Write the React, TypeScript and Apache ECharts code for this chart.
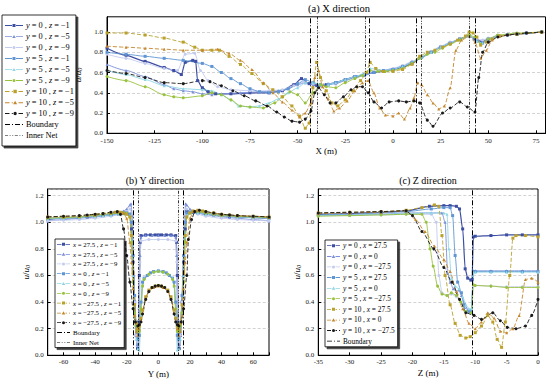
import React, { useEffect, useRef } from 'react';
import * as echarts from 'echarts';

const FONT = 'Liberation Serif';

// ---------- (a) X direction ----------
const xTicksA = [-150, -125, -100, -75, -50, -25, 0, 25, 50, 75];
const aY0Z1 = [[-150,0.84],[-140,0.77],[-130,0.71],[-120,0.65],[-115,0.62],[-111,0.58],[-109,0.70],[-105,0.72],[-103.5,0.71],[-102.5,0.52],[-100,0.45],[-97,0.41],[-93,0.39],[-85,0.39],[-75,0.40],[-65,0.40],[-58,0.42],[-52,0.48],[-48,0.54],[-44,0.49],[-40,0.47],[-35,0.48],[-30,0.50],[-25,0.53],[-20,0.56],[-15,0.58],[-10,0.60],[-5,0.61],[0,0.63],[5,0.65],[10,0.69],[15,0.75],[20,0.80],[25,0.85],[30,0.89],[35,0.93],[40,0.96],[43,0.93],[47,0.90],[50,0.93],[55,0.96],[60,0.97],[65,0.98],[70,0.99],[78,1.0]];
const aY0Z5 = [[-150,0.68],[-140,0.62],[-130,0.56],[-120,0.48],[-115,0.44],[-110,0.42],[-105,0.41],[-100,0.39],[-95,0.38],[-90,0.39],[-80,0.40],[-70,0.41],[-60,0.42],[-55,0.44],[-50,0.48],[-46,0.50],[-42,0.48],[-38,0.47],[-34,0.48],[-30,0.49],[-25,0.52],[-20,0.55],[-15,0.57],[-10,0.60],[-5,0.62],[0,0.64],[5,0.66],[10,0.70],[15,0.75],[20,0.80],[25,0.85],[30,0.89],[35,0.93],[40,0.96],[44,0.92],[47,0.91],[50,0.93],[55,0.96],[65,0.98],[78,1.0]];
const aY0Z9 = [[-150,0.78],[-140,0.74],[-130,0.69],[-120,0.64],[-113,0.62],[-109,0.78],[-104,0.79],[-101,0.62],[-97,0.52],[-92,0.46],[-85,0.43],[-75,0.42],[-65,0.42],[-58,0.43],[-52,0.47],[-47,0.51],[-42,0.49],[-38,0.48],[-34,0.49],[-30,0.50],[-25,0.53],[-20,0.56],[-15,0.58],[-10,0.61],[-5,0.62],[0,0.64],[5,0.67],[10,0.71],[15,0.76],[20,0.81],[25,0.86],[30,0.90],[35,0.93],[40,0.96],[44,0.93],[47,0.92],[50,0.94],[55,0.96],[65,0.98],[78,1.0]];
const aY5Z1 = [[-150,0.80],[-140,0.78],[-130,0.76],[-120,0.74],[-110,0.72],[-100,0.69],[-95,0.66],[-90,0.60],[-85,0.54],[-80,0.49],[-75,0.44],[-70,0.41],[-65,0.40],[-60,0.41],[-55,0.44],[-50,0.49],[-46,0.53],[-42,0.50],[-38,0.48],[-34,0.48],[-30,0.50],[-25,0.53],[-20,0.56],[-15,0.58],[-10,0.60],[-5,0.62],[0,0.63],[5,0.66],[10,0.70],[15,0.75],[20,0.80],[25,0.85],[30,0.89],[35,0.93],[40,0.96],[44,0.91],[47,0.89],[50,0.93],[55,0.96],[65,0.98],[78,1.0]];
const aY5Z5 = [[-150,0.62],[-140,0.58],[-130,0.53],[-120,0.47],[-110,0.44],[-100,0.43],[-95,0.42],[-90,0.38],[-85,0.33],[-81,0.27],[-75,0.26],[-70,0.27],[-65,0.30],[-60,0.34],[-55,0.40],[-50,0.45],[-46,0.50],[-42,0.50],[-38,0.48],[-34,0.48],[-30,0.50],[-25,0.53],[-20,0.56],[-15,0.59],[-12,0.64],[-8,0.63],[-4,0.62],[0,0.63],[5,0.66],[10,0.70],[15,0.75],[20,0.80],[25,0.85],[30,0.89],[35,0.93],[40,0.96],[44,0.91],[47,0.89],[50,0.93],[55,0.96],[65,0.98],[78,1.0]];
const aY5Z9 = [[-150,0.56],[-140,0.52],[-130,0.46],[-120,0.38],[-115,0.36],[-110,0.35],[-100,0.37],[-95,0.40],[-90,0.38],[-85,0.33],[-80,0.27],[-75,0.26],[-68,0.25],[-62,0.30],[-58,0.36],[-54,0.41],[-50,0.38],[-46,0.30],[-42,0.40],[-38,0.48],[-35,0.46],[-30,0.45],[-25,0.50],[-20,0.54],[-16,0.57],[-12,0.62],[-8,0.61],[-4,0.61],[0,0.62],[5,0.64],[10,0.69],[14,0.74],[18,0.78],[22,0.80],[26,0.84],[30,0.88],[35,0.92],[40,0.97],[43,0.95],[46,0.88],[50,0.93],[55,0.97],[65,0.99],[78,1.0]];
const aY10Z1 = [[-150,0.99],[-140,0.99],[-130,0.97],[-120,0.94],[-110,0.90],[-104,0.85],[-100,0.82],[-95,0.82],[-91,0.82],[-86,0.76],[-80,0.68],[-74,0.59],[-68,0.49],[-63,0.43],[-58,0.36],[-53,0.27],[-49,0.17],[-46,0.05],[-44,0.10],[-42,0.45],[-40,0.70],[-38,0.55],[-35,0.42],[-32,0.30],[-29,0.27],[-25,0.33],[-21,0.42],[-17,0.52],[-14,0.60],[-12,0.70],[-9,0.64],[-5,0.61],[0,0.61],[5,0.63],[10,0.68],[14,0.76],[18,0.80],[22,0.82],[26,0.85],[30,0.88],[34,0.92],[38,0.96],[40,1.0],[42,0.99],[44,0.95],[46,0.87],[49,0.90],[52,0.93],[56,0.96],[65,0.98],[78,1.0]];
const aY10Z5 = [[-150,0.86],[-140,0.85],[-130,0.84],[-120,0.83],[-110,0.82],[-100,0.82],[-92,0.83],[-86,0.79],[-80,0.72],[-74,0.63],[-68,0.50],[-63,0.40],[-58,0.31],[-53,0.23],[-49,0.16],[-46,0.20],[-43,0.30],[-41,0.55],[-39,0.62],[-37,0.46],[-34,0.34],[-31,0.22],[-28,0.25],[-24,0.32],[-20,0.42],[-16,0.50],[-13,0.52],[-10,0.40],[-7,0.25],[-4,0.18],[0,0.17],[3,0.20],[6,0.14],[9,0.25],[11,0.35],[13,0.50],[15,0.48],[18,0.38],[21,0.30],[24,0.24],[27,0.27],[30,0.45],[33,0.82],[36,0.92],[40,0.96],[43,0.90],[46,0.74],[49,0.82],[52,0.92],[56,0.96],[65,0.98],[78,1.0]];
const aY10Z9 = [[-150,0.62],[-140,0.59],[-130,0.55],[-120,0.50],[-110,0.49],[-100,0.52],[-96,0.51],[-90,0.47],[-84,0.42],[-78,0.37],[-72,0.32],[-66,0.27],[-61,0.21],[-57,0.16],[-53,0.12],[-49,0.11],[-46,0.14],[-43,0.22],[-41,0.40],[-39,0.45],[-36,0.38],[-33,0.30],[-30,0.30],[-26,0.36],[-22,0.43],[-19,0.46],[-16,0.46],[-13,0.40],[-10,0.31],[-6,0.25],[-2,0.31],[3,0.32],[7,0.31],[11,0.32],[14,0.30],[18,0.13],[21,0.07],[26,0.20],[30,0.25],[35,0.31],[39,0.26],[43,0.21],[45,0.55],[47,0.80],[50,0.90],[55,0.95],[60,0.97],[65,0.98],[70,0.99],[78,1.0]];
const boundaryA = [-43.2, -12.2, 12.2, 43.2];
const innerNetA = [-39.9, -14.7, 14.7, 39.9];

// ---------- (b) Y direction ----------
const bX275Z1 = [[-70,1.02],[-60,1.03],[-50,1.035],[-45,1.04],[-40,1.045],[-35,1.05],[-30,1.055],[-25,1.06],[-22,1.065],[-20,1.07],[-18,1.06],[-17,0.95],[-16,0.70],[-15,0.40],[-14,0.15],[-13.2,0.05],[-12.5,0.25],[-12,0.60],[-11.5,0.85],[-11,0.90],[-8,0.905],[-5,0.905],[-2,0.905],[0,0.905],[2,0.905],[5,0.905],[8,0.905],[11,0.90],[11.5,0.85],[12,0.60],[12.5,0.25],[13.2,0.05],[14,0.15],[15,0.40],[16,0.70],[17,0.95],[18,1.08],[20,1.08],[22,1.075],[25,1.07],[30,1.06],[35,1.055],[40,1.05],[45,1.045],[50,1.04],[60,1.035],[70,1.03]];
const bX275Z5 = [[-70,1.01],[-60,1.02],[-50,1.03],[-45,1.035],[-40,1.04],[-35,1.05],[-30,1.06],[-25,1.07],[-22,1.085],[-20,1.10],[-18,1.13],[-17.3,1.14],[-16.5,1.05],[-15.5,0.60],[-14.5,0.25],[-13.5,0.08],[-12.5,0.05],[-12,0.30],[-11.5,0.75],[-11,0.89],[-8,0.90],[-4,0.90],[0,0.90],[4,0.90],[8,0.90],[11,0.89],[11.5,0.75],[12,0.30],[12.5,0.05],[13.5,0.08],[14.5,0.25],[15.5,0.60],[16.5,1.05],[17.3,1.14],[18,1.13],[20,1.10],[22,1.085],[25,1.07],[30,1.06],[35,1.05],[40,1.04],[45,1.035],[50,1.03],[60,1.02],[70,1.01]];
const bX275Z9 = [[-70,1.01],[-60,1.015],[-50,1.02],[-40,1.03],[-30,1.045],[-25,1.06],[-20,1.08],[-18,1.10],[-17,1.06],[-16,0.75],[-15,0.40],[-14,0.15],[-13,0.10],[-12.3,0.35],[-11.7,0.70],[-11,0.86],[-6,0.87],[0,0.87],[6,0.87],[11,0.86],[11.7,0.70],[12.3,0.35],[13,0.10],[14,0.15],[15,0.40],[16,0.75],[17,1.06],[18,1.10],[20,1.08],[25,1.06],[30,1.045],[40,1.03],[50,1.02],[60,1.015],[70,1.01]];
const bX0Z1 = [[-70,1.03],[-60,1.035],[-50,1.04],[-45,1.045],[-40,1.05],[-35,1.055],[-30,1.06],[-25,1.065],[-22,1.07],[-20,1.07],[-18,1.06],[-17,1.0],[-16,0.75],[-15,0.45],[-14,0.22],[-13,0.12],[-12,0.15],[-11,0.40],[-10,0.55],[-9,0.58],[-7,0.60],[-5,0.62],[-3,0.63],[0,0.635],[3,0.63],[5,0.62],[7,0.60],[9,0.58],[10,0.55],[11,0.40],[12,0.15],[13,0.12],[14,0.22],[15,0.45],[16,0.75],[17,1.0],[18,1.07],[20,1.075],[22,1.08],[25,1.075],[30,1.07],[35,1.06],[40,1.055],[45,1.05],[50,1.045],[60,1.04],[70,1.035]];
const bX0Z5 = [[-70,1.025],[-60,1.03],[-50,1.035],[-40,1.045],[-35,1.05],[-30,1.055],[-25,1.06],[-20,1.065],[-18,1.05],[-17,0.90],[-16,0.60],[-15,0.30],[-14,0.12],[-13,0.05],[-12,0.04],[-11,0.30],[-10,0.52],[-9,0.58],[-6,0.61],[-3,0.625],[0,0.63],[3,0.625],[6,0.61],[9,0.58],[10,0.52],[11,0.30],[12,0.04],[13,0.05],[14,0.12],[15,0.30],[16,0.60],[17,0.90],[18,1.05],[20,1.07],[25,1.07],[30,1.06],[35,1.055],[40,1.05],[50,1.04],[60,1.035],[70,1.03]];
const bX0Z9 = [[-70,1.03],[-60,1.035],[-50,1.04],[-40,1.05],[-35,1.06],[-30,1.065],[-25,1.07],[-22,1.07],[-20,1.065],[-18,1.04],[-17,0.85],[-16,0.55],[-15,0.32],[-14,0.22],[-13,0.18],[-12,0.18],[-11,0.35],[-10,0.52],[-9,0.57],[-6,0.61],[-3,0.625],[0,0.63],[3,0.625],[6,0.61],[9,0.57],[10,0.52],[11,0.35],[12,0.18],[13,0.18],[14,0.22],[15,0.32],[16,0.55],[17,0.85],[18,1.04],[20,1.07],[22,1.08],[25,1.08],[30,1.07],[35,1.06],[40,1.05],[50,1.045],[60,1.04],[70,1.035]];
const bXm275Z1 = [[-70,1.04],[-60,1.04],[-50,1.045],[-45,1.05],[-40,1.055],[-35,1.065],[-30,1.07],[-27,1.075],[-24,1.075],[-22,1.07],[-20,1.06],[-18,1.04],[-17,0.90],[-16,0.62],[-15,0.38],[-14,0.24],[-13,0.20],[-12,0.22],[-11,0.28],[-10,0.34],[-8,0.44],[-6,0.49],[-4,0.51],[-2,0.52],[0,0.525],[2,0.52],[4,0.51],[6,0.49],[8,0.44],[10,0.34],[11,0.28],[12,0.22],[13,0.20],[14,0.24],[15,0.38],[16,0.62],[17,0.90],[18,1.04],[20,1.07],[22,1.085],[25,1.09],[28,1.085],[30,1.08],[35,1.07],[40,1.06],[45,1.055],[50,1.05],[60,1.045],[70,1.04]];
const bXm275Z5 = [[-70,1.04],[-60,1.045],[-50,1.05],[-40,1.06],[-35,1.065],[-30,1.075],[-25,1.08],[-22,1.07],[-20,1.03],[-18,0.85],[-17,0.70],[-16,0.50],[-15,0.30],[-14,0.18],[-13,0.15],[-12,0.20],[-11,0.26],[-10,0.32],[-8,0.43],[-6,0.48],[-3,0.51],[0,0.52],[3,0.51],[6,0.48],[8,0.43],[10,0.32],[11,0.26],[12,0.20],[13,0.15],[14,0.18],[15,0.30],[16,0.50],[17,0.70],[18,0.85],[20,1.03],[22,1.08],[25,1.09],[30,1.08],[35,1.07],[40,1.06],[50,1.05],[60,1.045],[70,1.04]];
const bXm275Z9 = [[-70,1.04],[-60,1.045],[-50,1.05],[-45,1.055],[-40,1.06],[-35,1.065],[-30,1.075],[-26,1.08],[-24,1.06],[-22,0.95],[-20,0.75],[-18,0.55],[-16,0.35],[-14.5,0.25],[-13,0.22],[-12,0.23],[-11,0.25],[-10,0.31],[-8,0.42],[-6,0.48],[-4,0.51],[-2,0.52],[0,0.525],[2,0.52],[4,0.51],[6,0.48],[8,0.42],[10,0.31],[11,0.25],[12,0.23],[13,0.22],[14.5,0.25],[16,0.35],[18,0.60],[19,0.87],[21,1.02],[23,1.08],[26,1.09],[30,1.08],[35,1.07],[40,1.06],[45,1.055],[50,1.05],[60,1.045],[70,1.04]];
const boundaryB = [-16, 16];
const innerNetB = [-12.8, 12.8];

// ---------- (c) Z direction ----------
const cY0X275 = [[-35,1.06],[-30,1.065],[-25,1.075],[-21,1.085],[-17.3,1.12],[-15,1.125],[-14,1.125],[-13,1.12],[-12.5,1.10],[-12,0.95],[-11.6,0.65],[-11.2,0.58],[-10.7,0.565],[-10.5,0.57],[-10.3,0.89],[-10,0.895],[-7.5,0.90],[-5,0.905],[-2.5,0.905],[0,0.905]];
const cY0X0 = [[-35,1.05],[-30,1.055],[-25,1.06],[-21,1.07],[-17,1.07],[-15.3,1.07],[-14.8,1.0],[-14.4,0.62],[-14,0.55],[-13.5,0.50],[-13,0.48],[-12.6,0.49],[-12.2,0.45],[-11.7,0.36],[-11.2,0.34],[-10.6,0.34],[-10.3,0.635],[-10,0.635],[-7.5,0.635],[-5,0.635],[-2.5,0.635],[0,0.635]];
const cY0Xm275 = [[-35,1.05],[-30,1.05],[-25,1.055],[-21,1.06],[-17,1.06],[-16.2,1.0],[-15.8,0.60],[-15.3,0.47],[-14.5,0.45],[-13.8,0.46],[-13,0.44],[-12.3,0.40],[-11.5,0.33],[-10.6,0.32],[-10.3,0.52],[-10,0.525],[-7.5,0.52],[-5,0.515],[-2.5,0.515],[0,0.515]];
const cY5X275 = [[-35,1.055],[-30,1.06],[-25,1.07],[-21,1.08],[-17,1.10],[-15,1.11],[-14,1.11],[-13.6,1.05],[-13.2,0.75],[-12.8,0.55],[-12.2,0.47],[-11.7,0.38],[-11,0.33],[-10.6,0.33],[-10.3,0.63],[-10,0.63],[-7.5,0.63],[-5,0.63],[-2.5,0.63],[0,0.63]];
const cY5X0 = [[-35,1.05],[-30,1.055],[-25,1.06],[-21,1.065],[-17,1.07],[-15,1.07],[-14.5,1.06],[-14.2,0.80],[-13.8,0.58],[-13.2,0.52],[-12.6,0.50],[-12,0.44],[-11.5,0.38],[-11,0.35],[-10.6,0.35],[-10.3,0.62],[-10,0.625],[-7.5,0.625],[-5,0.625],[-2.5,0.625],[0,0.625]];
const cY5Xm275 = [[-35,1.045],[-30,1.05],[-25,1.055],[-21,1.06],[-18.5,1.06],[-17.8,1.0],[-17.2,0.80],[-16.7,0.67],[-16,0.52],[-15.3,0.46],[-14.5,0.45],[-13.8,0.47],[-13,0.45],[-12.3,0.40],[-11.5,0.33],[-10.6,0.32],[-10.3,0.53],[-10,0.525],[-7.5,0.52],[-5,0.51],[-2.5,0.51],[0,0.51]];
const cY10X275 = [[-35,1.07],[-30,1.075],[-25,1.08],[-21,1.09],[-18.5,1.11],[-16.5,1.13],[-15.8,1.12],[-15.3,0.90],[-14.8,0.60],[-14,0.38],[-13.2,0.24],[-12.4,0.15],[-11.5,0.13],[-10.8,0.14],[-10,0.17],[-9,0.22],[-8,0.30],[-7.2,0.25],[-6.5,0.12],[-5.8,0.06],[-5.2,0.25],[-4.5,0.60],[-4,0.88],[-3.5,0.90],[-2,0.90],[0,0.89]];
const cY10X0 = [[-35,1.065],[-30,1.07],[-25,1.075],[-21,1.085],[-19.5,1.02],[-18,0.93],[-16.5,0.82],[-15,0.72],[-14,0.63],[-13,0.48],[-12,0.35],[-11,0.24],[-10,0.20],[-9,0.25],[-8,0.32],[-7,0.28],[-6,0.18],[-5,0.17],[-4,0.20],[-3,0.30],[-2,0.57],[-1,0.58],[0,0.55]];
const cY10Xm275 = [[-35,1.07],[-30,1.075],[-25,1.08],[-21,1.087],[-20,1.05],[-18.5,0.93],[-16.6,0.80],[-15,0.66],[-13.7,0.55],[-12.5,0.42],[-11.5,0.32],[-10.2,0.30],[-9,0.27],[-7.2,0.32],[-6,0.26],[-4.9,0.21],[-3.5,0.20],[-2,0.22],[-1,0.30],[0,0.42]];
const boundaryC = [-10.5];

const C = {
  darkBlue: '#3d4fa3',
  midBlue: '#7b90d8',
  lavender: '#c3cbee',
  steel: '#5f95d3',
  cyan: '#8fd6e4',
  green: '#98c23c',
  olive: '#b9a12b',
  brown: '#c4862c',
  black: '#1a1a1a',
};

const BOUND_DASH = [5, 2, 1, 2];
const INNER_DASH = [3, 1.5, 1, 1.5, 1, 1.5];
const SERIES_DASH = [4, 2];

function line(name: string, data: number[][], color: string, symbol: string, dashed: boolean, gi: number, width = 1, size = 3) {
  return {
    type: 'line', name, data, xAxisIndex: gi, yAxisIndex: gi,
    symbol, symbolSize: size, showSymbol: true,
    smooth: 0.25, smoothMonotone: 'x',
    lineStyle: { color, width, type: dashed ? SERIES_DASH : 'solid' },
    itemStyle: { color, borderWidth: 0 },
  };
}

function vlines(name: string, xs: number[], dash: number[], gi: number, width: number) {
  return {
    type: 'line', name, data: [], xAxisIndex: gi, yAxisIndex: gi,
    symbol: 'none',
    lineStyle: { color: '#000', width, type: dash },
    itemStyle: { color: '#000' },
    markLine: {
      silent: true, symbol: ['none', 'none'], label: { show: false },
      lineStyle: { color: '#000', width, type: dash },
      data: xs.map((x) => ({ xAxis: x })),
    },
  };
}

const namesA = ['y = 0 , z = −1', 'y = 0 , z = −5', 'y = 0 , z = −9', 'y = 5 , z = −1', 'y = 5 , z = −5', 'y = 5 , z = −9', 'y = 10 , z = −1', 'y = 10 , z = −5', 'y = 10 , z = −9'];
const namesB = ['x = 27.5 , z = −1', 'x = 27.5 , z = −5', 'x = 27.5 , z = −9', 'x = 0 , z = −1', 'x = 0 , z = −5', 'x = 0 , z = −9', 'x = −27.5 , z = −1', 'x = −27.5 , z = −5', 'x = −27.5 , z = −9'];
const namesC = ['y = 0 , x = 27.5', 'y = 0 , x = 0', 'y = 0 , x = −27.5', 'y = 5 , x = 27.5', 'y = 5 , x = 0', 'y = 5 , x = −27.5', 'y = 10 , x = 27.5', 'y = 10 , x = 0', 'y = 10 , x = −27.5'];

const styles: [string, string, boolean, number][] = [
  [C.darkBlue, 'rect', false, 1.2],
  [C.midBlue, 'triangle', false, 0.9],
  [C.lavender, 'circle', false, 0.9],
  [C.steel, 'rect', false, 0.9],
  [C.cyan, 'triangle', false, 0.9],
  [C.green, 'circle', false, 0.9],
  [C.olive, 'rect', true, 0.9],
  [C.brown, 'triangle', true, 0.9],
  [C.black, 'circle', true, 0.9],
];

// legend icon as a filled path: thin line (optionally dashed) + marker in the middle
function f(n: number) { return Math.round(n * 100) / 100; }
function iconPath(w: number, h: number, symbol: string, dash: number[] | null, t = 0.8): string {
  const cy = h / 2, y0 = cy - t / 2, cx = w / 2, r = symbol === 'none' ? 0 : 1.7;
  const segs: [number, number][] = [];
  const pushSeg = (a: number, b: number) => {
    // cut out the marker area
    if (r > 0) {
      const g0 = cx - r - 0.3, g1 = cx + r + 0.3;
      if (b <= g0 || a >= g1) segs.push([a, b]);
      else { if (a < g0) segs.push([a, g0]); if (b > g1) segs.push([g1, b]); }
    } else segs.push([a, b]);
  };
  if (!dash) pushSeg(0, w);
  else {
    let x = 0, i = 0;
    while (x < w) {
      const len = dash[i % dash.length];
      if (i % 2 === 0) pushSeg(x, Math.min(w, x + len));
      x += len; i++;
    }
  }
  let d = '';
  for (const [a, b] of segs) if (b - a > 0.05) d += `M${f(a)},${f(y0)}H${f(b)}V${f(y0 + t)}H${f(a)}Z`;
  // invisible-width guard to keep bbox full width
  if (symbol === 'rect') d += `M${f(cx - 1.5)},${f(cy - 1.5)}H${f(cx + 1.5)}V${f(cy + 1.5)}H${f(cx - 1.5)}Z`;
  else if (symbol === 'triangle') d += `M${f(cx)},${f(cy - 1.8)}L${f(cx + 1.8)},${f(cy + 1.4)}L${f(cx - 1.8)},${f(cy + 1.4)}Z`;
  else if (symbol === 'circle') d += `M${f(cx - 1.5)},${f(cy)}A1.5,1.5 0 1,1 ${f(cx + 1.5)},${f(cy)}A1.5,1.5 0 1,1 ${f(cx - 1.5)},${f(cy)}Z`;
  return 'path://' + d;
}

const richName = (name: string) => name.replace(/(^|\s)([xyz])(?=\s=)/g, '$1{i|$2}');

function legendData(names: string[], w: number, h: number, withInner: boolean) {
  const items: any[] = names.map((n, i) => ({ name: n, icon: iconPath(w, h, styles[i][1], styles[i][2] ? SERIES_DASH : null) }));
  items.push({ name: 'Boundary', icon: iconPath(w, h, 'none', BOUND_DASH) });
  if (withInner) items.push({ name: 'Inner Net', icon: iconPath(w, h, 'none', INNER_DASH, 0.6) });
  return items;
}

function legend(data: any[], left: number, top: number, fs: number, lh: number, gap: number, iw: number, pad: number[]) {
  return {
    orient: 'vertical', left, top, data,
    itemWidth: iw, itemHeight: 6, itemGap: gap, padding: pad,
    symbolKeepAspect: true,
    backgroundColor: '#fff', borderColor: '#000', borderWidth: 0.8,
    shadowColor: 'rgba(0,0,0,0.75)', shadowOffsetX: 2, shadowOffsetY: 2, shadowBlur: 0,
    itemStyle: { borderWidth: 0, shadowColor: 'rgba(0,0,0,0)', shadowBlur: 0 },
    formatter: richName,
    selectedMode: false,
    textStyle: {
      fontFamily: FONT, fontSize: fs, color: '#000', lineHeight: lh, padding: [0, 0, 0, -2],
      rich: { i: { fontFamily: FONT, fontSize: fs, fontStyle: 'italic', color: '#000', lineHeight: lh } },
    },
  };
}

const axisCommon = {
  axisLine: { show: true, onZero: false, lineStyle: { color: '#000', width: 1 } },
  axisTick: { show: true, inside: true, length: 3, lineStyle: { color: '#000' } },
};
const labelStyle = { fontFamily: FONT, fontSize: 7, color: '#222' };
const uName = '{i|u}/{i|u}{s|0}';
const uNameStyle = {
  fontFamily: FONT, fontSize: 9, color: '#000',
  rich: { i: { fontFamily: FONT, fontSize: 9, fontStyle: 'italic' }, s: { fontFamily: FONT, fontSize: 6, fontStyle: 'italic', verticalAlign: 'bottom', padding: [4, 0, 0, 0] } },
};

function yAxis(gi: number, max: number, gap: number) {
  return {
    type: 'value', gridIndex: gi, min: 0, max, interval: 0.2,
    name: uName, nameLocation: 'middle', nameGap: gap, nameRotate: 90, nameTextStyle: uNameStyle,
    ...axisCommon,
    axisLabel: { ...labelStyle, margin: 4, showMaxLabel: false, formatter: (v: number) => v.toFixed(1) },
    splitLine: { show: true, lineStyle: { color: '#b5b5b5', width: 0.6, type: [3, 2] } },
  };
}

function App() {
  const ref = useRef<HTMLDivElement>(null);
  useEffect(() => {
    if (!ref.current) return;
    const chart = echarts.init(ref.current, undefined, { renderer: 'svg' });
    const series: any[] = [];
    const dataA = [aY0Z1, aY0Z5, aY0Z9, aY5Z1, aY5Z5, aY5Z9, aY10Z1, aY10Z5, aY10Z9];
    const dataB = [bX275Z1, bX275Z5, bX275Z9, bX0Z1, bX0Z5, bX0Z9, bXm275Z1, bXm275Z5, bXm275Z9];
    const dataC = [cY0X275, cY0X0, cY0Xm275, cY5X275, cY5X0, cY5Xm275, cY10X275, cY10X0, cY10Xm275];
    dataA.forEach((d, i) => series.push(line(namesA[i], d, styles[i][0], styles[i][1], styles[i][2], 0, styles[i][3], 3)));
    series.push(vlines('Boundary', boundaryA, BOUND_DASH, 0, 1));
    series.push(vlines('Inner Net', innerNetA, INNER_DASH, 0, 0.8));
    dataB.forEach((d, i) => series.push(line(namesB[i], d, styles[i][0], styles[i][1], styles[i][2], 1, styles[i][3], 3)));
    series.push(vlines('Boundary', boundaryB, BOUND_DASH, 1, 1));
    series.push(vlines('Inner Net', innerNetB, INNER_DASH, 1, 0.8));
    dataC.forEach((d, i) => series.push(line(namesC[i], d, styles[i][0], styles[i][1], styles[i][2], 2, styles[i][3], 3)));
    series.push(vlines('Boundary', boundaryC, BOUND_DASH, 2, 1));

    const option: any = {
      animation: false,
      backgroundColor: '#fff',
      grid: [
        { left: 107, top: 16.8, width: 438.5, height: 116.5, show: true, borderColor: '#000', borderWidth: 1, backgroundColor: 'transparent', outerBoundsMode: 'none' },
        { left: 47.7, top: 189, width: 221.3, height: 166.3, show: true, borderColor: '#000', borderWidth: 1, backgroundColor: 'transparent', outerBoundsMode: 'none' },
        { left: 318.3, top: 189, width: 219.7, height: 166.3, show: true, borderColor: '#000', borderWidth: 1, backgroundColor: 'transparent', outerBoundsMode: 'none' },
      ],
      xAxis: [
        {
          type: 'value', gridIndex: 0, min: xTicksA[0], max: 80, interval: 25,
          name: 'X (m)', nameLocation: 'middle', nameGap: 13, nameTextStyle: { fontFamily: FONT, fontSize: 9, color: '#000' },
          ...axisCommon,
          axisLabel: { ...labelStyle, margin: 4, showMaxLabel: false },
          splitLine: { show: false },
        },
        {
          type: 'value', gridIndex: 1, min: -70, max: 70, interval: 10,
          name: 'Y (m)', nameLocation: 'middle', nameGap: 14, nameTextStyle: { fontFamily: FONT, fontSize: 9, color: '#000' },
          ...axisCommon,
          axisLabel: { ...labelStyle, margin: 3, formatter: (v: number) => (v % 20 === 0 ? String(v) : '') },
          splitLine: { show: false },
        },
        {
          type: 'value', gridIndex: 2, min: -35, max: 0, interval: 5,
          name: 'Z (m)', nameLocation: 'middle', nameGap: 13, nameTextStyle: { fontFamily: FONT, fontSize: 9, color: '#000' },
          ...axisCommon,
          axisLabel: { ...labelStyle, margin: 3 },
          splitLine: { show: false },
        },
      ],
      yAxis: [yAxis(0, 1.15, 13), yAxis(1, 1.25, 13), yAxis(2, 1.25, 12)],
      legend: [
        legend(legendData(namesA, 18, 6, true), 2, 15, 8.3, 9, 2, 18, [6, 2, 6, 3]),
        legend(legendData(namesB, 13, 6, true), 55, 239, 6.8, 7.6, 2.2, 13, [1.5, 3, 1.5, 2]),
        legend(legendData(namesC, 13, 6, false), 325, 240, 7.3, 8.4, 2.2, 13, [1.5, 3, 1.5, 2]),
      ],
      graphic: [
        { type: 'text', x: 339, y: 8.5, style: { text: '(a) X direction', fontFamily: FONT, fontSize: 10.5, fill: '#000', textAlign: 'center', textVerticalAlign: 'middle' } },
        { type: 'text', x: 155, y: 180, style: { text: '(b) Y direction', fontFamily: FONT, fontSize: 10, fill: '#000', textAlign: 'center', textVerticalAlign: 'middle' } },
        { type: 'text', x: 428, y: 180, style: { text: '(c) Z direction', fontFamily: FONT, fontSize: 10, fill: '#000', textAlign: 'center', textVerticalAlign: 'middle' } },
      ],
      series,
    };
    chart.setOption(option);
    return () => chart.dispose();
  }, []);
  return <div ref={ref} style={{ position: 'fixed', left: 0, top: 0, width: 550, height: 382, background: '#fff' }} />;
}

export default App;
